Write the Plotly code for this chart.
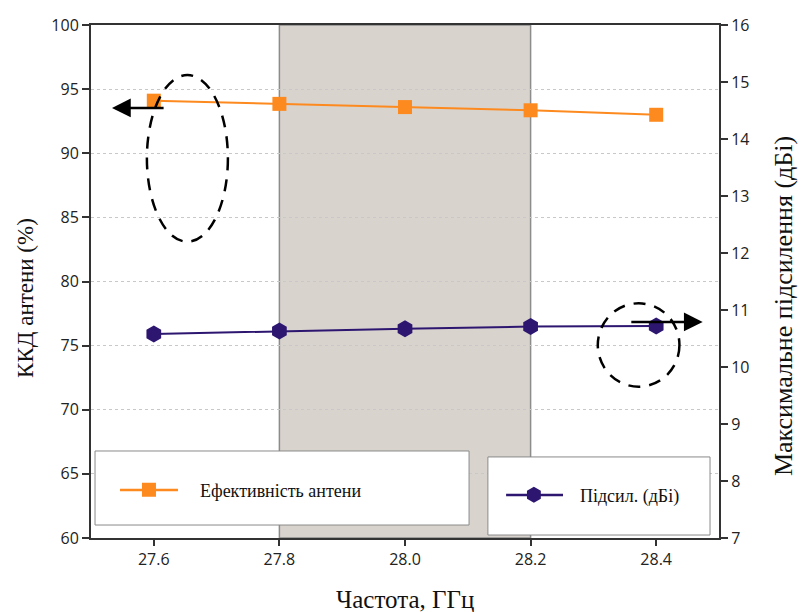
import plotly.graph_objects as go

# ---- data ----
freq_ghz = [27.6, 27.8, 28.0, 28.2, 28.4]
efficiency_pct = [94.1, 93.85, 93.6, 93.35, 93.0]
gain_dbi = [10.58, 10.63, 10.67, 10.71, 10.72]
band_ghz = [27.8, 28.2]
eff_ticks = [60, 65, 70, 75, 80, 85, 90, 95, 100]
gain_ticks = [7, 8, 9, 10, 11, 12, 13, 14, 15, 16]
x_ticks = [27.6, 27.8, 28.0, 28.2, 28.4]

ORANGE = "#fd8a1f"
PURPLE = "#2c1670"
AX = "#333333"
SERIF = "Liberation Serif"
SANS = "Open Sans"

fig = go.Figure()
fig.add_trace(go.Scatter(
    x=freq_ghz, y=efficiency_pct, mode="lines+markers",
    name="Ефективність антени", showlegend=False,
    line=dict(color=ORANGE, width=2),
    marker=dict(symbol="square", size=14, color=ORANGE),
    yaxis="y"))
fig.add_trace(go.Scatter(
    x=freq_ghz, y=gain_dbi, mode="lines+markers",
    name="Підсил. (дБі)", showlegend=False,
    line=dict(color=PURPLE, width=2),
    marker=dict(symbol="hexagon", size=17, color=PURPLE),
    yaxis="y2"))
# legend entries (marker only; the legend line is drawn as a shape)
fig.add_trace(go.Scatter(
    x=[None], y=[None], mode="markers", name="Ефективність антени",
    marker=dict(symbol="square", size=14, color=ORANGE), legend="legend", yaxis="y"))
fig.add_trace(go.Scatter(
    x=[None], y=[None], mode="markers", name="Підсил. (дБі)",
    marker=dict(symbol="hexagon", size=16, color=PURPLE), legend="legend2", yaxis="y2"))

shapes = []
# highlighted band
shapes.append(dict(type="rect", xref="x", yref="paper", x0=band_ghz[0], x1=band_ghz[1],
                   y0=0, y1=1, fillcolor="#d9d3ce", line=dict(color="#8c8c8c", width=1.5),
                   layer="between"))
# dashed ellipses
shapes.append(dict(type="circle", xref="x", yref="y", x0=27.589, x1=27.718, y0=83.1, y1=96.1,
                   line=dict(color="black", width=2.5, dash="12px,9px")))
shapes.append(dict(type="circle", xref="x", yref="y", x0=28.307, x1=28.437, y0=71.8, y1=78.3,
                   line=dict(color="black", width=2.5, dash="12px,9px")))
# legend boxes
shapes.append(dict(type="rect", xref="paper", yref="paper", x0=0.0064, x1=0.602, y0=0.0253, y1=0.1696,
                   fillcolor="white", line=dict(color="#8a8a8a", width=1), layer="above"))
shapes.append(dict(type="rect", xref="paper", yref="paper", x0=0.632, x1=0.9857, y0=0.0058, y1=0.158,
                   fillcolor="white", line=dict(color="#8a8a8a", width=1), layer="above"))
# legend lines
shapes.append(dict(type="line", xref="paper", yref="paper", x0=0.0462, x1=0.1385, y0=0.0936, y1=0.0936,
                   line=dict(color=ORANGE, width=2.5), layer="above"))
shapes.append(dict(type="line", xref="paper", yref="paper", x0=0.661, x1=0.7516, y0=0.0838, y1=0.0838,
                   line=dict(color=PURPLE, width=2.5), layer="above"))

annotations = [
    dict(x=27.5334, y=93.53, ax=27.618, ay=93.53, xref="x", yref="y", axref="x", ayref="y",
         showarrow=True, arrowhead=2, arrowsize=1.5, arrowwidth=2.5, arrowcolor="black", text=""),
    dict(x=28.474, y=76.85, ax=28.358, ay=76.85, xref="x", yref="y", axref="x", ayref="y",
         showarrow=True, arrowhead=2, arrowsize=1.5, arrowwidth=2.5, arrowcolor="black", text=""),
    # axis titles
    dict(text="Частота, ГГц", xref="paper", yref="paper", x=0.5, y=0, xanchor="center", yanchor="middle",
         yshift=-61, showarrow=False, font=dict(family=SERIF, size=25, color="#111")),
    dict(text="ККД антени (%)", xref="paper", yref="paper", x=0, y=0.468, xanchor="center", yanchor="middle",
         xshift=-65, textangle=-90, showarrow=False, font=dict(family=SERIF, size=23, color="#111")),
    dict(text="Максимальне підсилення (дБі)", xref="paper", yref="paper", x=1, y=0.452,
         xanchor="center", yanchor="middle", xshift=64, textangle=-90, showarrow=False,
         font=dict(family=SERIF, size=26, color="#111")),
]

fig.update_layout(
    width=801, height=612,
    margin=dict(l=91, r=82, t=25, b=74),
    paper_bgcolor="white", plot_bgcolor="white",
    showlegend=True,
    shapes=shapes, annotations=annotations,
    xaxis=dict(range=[27.5, 28.5], tickvals=x_ticks, ticktext=[f"{v:.1f}" for v in x_ticks],
               showline=True, linecolor=AX, linewidth=2, mirror=True,
               ticks="outside", ticklen=6, tickcolor=AX, tickwidth=1.5,
               showgrid=False, zeroline=False, automargin=False,
               tickfont=dict(family=SANS, size=16, color="#222")),
    yaxis=dict(range=[60, 100], tickvals=eff_ticks,
               showline=True, linecolor=AX, linewidth=2,
               ticks="outside", ticklen=7, tickcolor=AX, tickwidth=1.5,
               showgrid=True, gridcolor="#c8c8c8", griddash="dot", gridwidth=1, zeroline=False,
               automargin=False,
               tickfont=dict(family=SANS, size=16, color="#222")),
    yaxis2=dict(range=[7, 16], tickvals=gain_ticks, overlaying="y", side="right",
                showline=True, linecolor=AX, linewidth=2,
                ticks="outside", ticklen=7, tickcolor=AX, tickwidth=1.5,
                showgrid=False, zeroline=False, automargin=False,
                tickfont=dict(family=SANS, size=16, color="#222")),
    legend=dict(x=0.0111, y=0.0936, xanchor="left", yanchor="middle", xref="paper", yref="paper",
                bgcolor="rgba(0,0,0,0)", borderwidth=0, itemwidth=92,
                font=dict(family=SERIF, size=18, color="#111")),
    legend2=dict(x=0.632, y=0.0838, xanchor="left", yanchor="middle", xref="paper", yref="paper",
                 bgcolor="rgba(0,0,0,0)", borderwidth=0, itemwidth=82,
                 font=dict(family=SERIF, size=18, color="#111")),
)

fig.write_html("out.html")
